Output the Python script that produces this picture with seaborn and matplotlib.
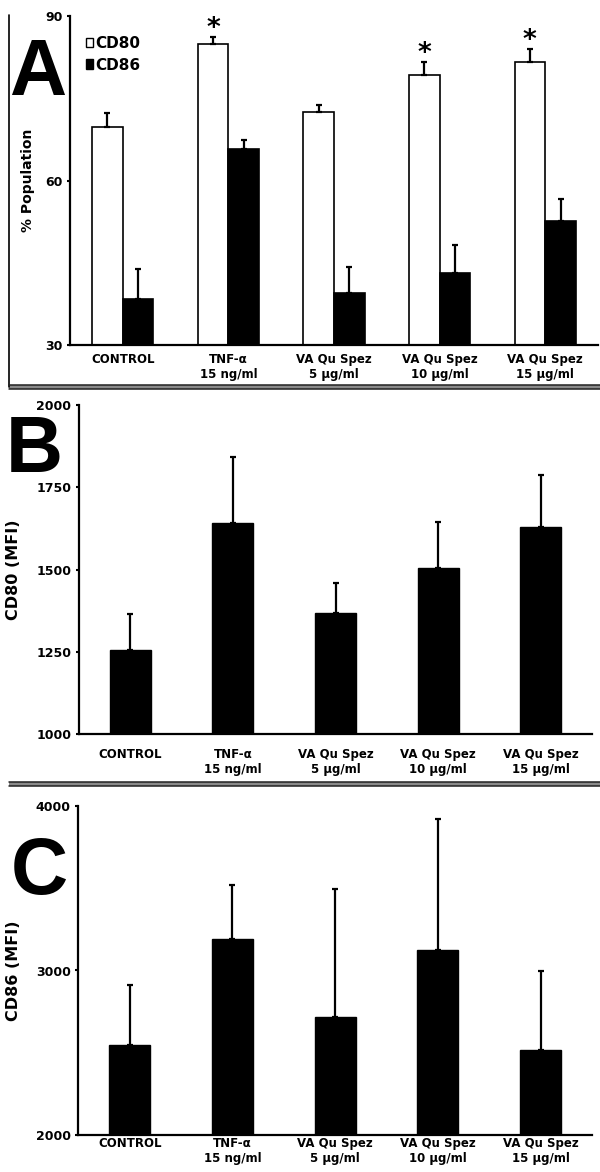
import numpy as np
import pandas as pd
import seaborn as sns
import matplotlib.pyplot as plt
from matplotlib.patches import Patch
from matplotlib.lines import Line2D

# ---- data ----
groups = ["CONTROL", "TNF-\u03b1\n15 ng/ml", "VA Qu Spez\n5 \u00b5g/ml",
          "VA Qu Spez\n10 \u00b5g/ml", "VA Qu Spez\n15 \u00b5g/ml"]

# panel A: % population
cd80_pct = [69.7, 84.9, 72.5, 79.2, 81.7]
cd80_pct_err = [2.6, 1.3, 1.2, 2.5, 2.3]
cd86_pct = [38.3, 65.8, 39.4, 43.1, 52.7]
cd86_pct_err = [5.6, 1.6, 4.9, 5.1, 4.0]
cd80_signif = [False, True, False, True, True]

# panel B: CD80 MFI
cd80_mfi = [1256, 1641, 1368, 1506, 1628]
cd80_mfi_err = [110, 202, 92, 140, 158]

# panel C: CD86 MFI
cd86_mfi = [2548, 3189, 2718, 3126, 2517]
cd86_mfi_err = [365, 333, 779, 797, 477]

sns.set_style("white")
plt.rcParams['font.family'] = ['DejaVu Sans']
plt.rcParams['font.weight'] = 'bold'
for key in ['text.color', 'axes.labelcolor', 'xtick.color', 'ytick.color',
            'xtick.labelcolor', 'ytick.labelcolor']:
    plt.rcParams[key] = 'black'

W, H = 600, 1172
fig = plt.figure(figsize=(W / 100, H / 100), dpi=100)


def px_axes(left, right, top, bottom):
    return fig.add_axes([left / W, 1 - bottom / H, (right - left) / W, (bottom - top) / H])


def style_axis(ax, ticks, xpad):
    sns.despine(ax=ax)
    for s in ['left', 'bottom']:
        ax.spines[s].set_linewidth(1.6)
        ax.spines[s].set_color('black')
    ax.set_yticks(ticks)
    ax.set_ylim(ticks[0], ticks[-1])
    ax.set_xlim(-0.5, 4.5)
    ax.tick_params(axis='y', direction='out', length=2.5, width=1.5, pad=3,
                   labelsize=9, left=True, colors='black')
    ax.tick_params(axis='x', length=0, pad=xpad, labelsize=8.5, colors='black')
    for lab in ax.get_xticklabels() + ax.get_yticklabels():
        lab.set_fontweight('bold')
        lab.set_color('black')
    ax.set_xlabel("")


def add_errors(ax, container, vals, errs):
    xs = [p.get_x() + p.get_width() / 2 for p in container]
    ax.errorbar(xs, vals, yerr=[np.zeros(len(vals)), errs], fmt='none',
                ecolor='black', elinewidth=1.6, capsize=2.2, capthick=1.6, zorder=3)
    return xs


# ---- panel A ----
axA = px_axes(70, 598, 16, 345)
dfA = pd.DataFrame({
    "group": groups * 2,
    "marker": ["CD80"] * 5 + ["CD86"] * 5,
    "value": cd80_pct + cd86_pct,
})
sns.barplot(data=dfA, x="group", y="value", hue="marker", order=groups,
            palette={"CD80": "white", "CD86": "black"}, edgecolor="black",
            linewidth=1.2, width=0.58, saturation=1, errorbar=None,
            legend=False, ax=axA)
xs80 = add_errors(axA, axA.containers[0], cd80_pct, cd80_pct_err)
add_errors(axA, axA.containers[1], cd86_pct, cd86_pct_err)
for x, v, e, s in zip(xs80, cd80_pct, cd80_pct_err, cd80_signif):
    if s:
        axA.text(x, v + e + 0.1, "*", ha='center', va='baseline',
                 fontsize=19, fontweight='heavy', color='black')
style_axis(axA, [30, 60, 90], 5.5)
axA.set_ylabel("% Population", fontsize=10, fontweight='bold', color='black')
axA.yaxis.set_label_coords(-0.066, 0.5)
axA.legend(handles=[Patch(facecolor='white', edgecolor='black', linewidth=1),
                    Patch(facecolor='black', edgecolor='black', linewidth=1)],
           labels=["CD80", "CD86"], loc='upper left',
           bbox_to_anchor=(0.03, 0.94), frameon=False, borderpad=0,
           borderaxespad=0, handlelength=0.45, handleheight=0.6,
           handletextpad=0.15, labelspacing=0.45,
           prop={'weight': 'bold', 'size': 11})

# ---- panel B ----
axB = px_axes(79, 592, 405, 734.3)
dfB = pd.DataFrame({"group": groups, "value": cd80_mfi})
sns.barplot(data=dfB, x="group", y="value", order=groups, color="black",
            edgecolor="black", width=0.4, saturation=1, errorbar=None, ax=axB)
add_errors(axB, axB.containers[0], cd80_mfi, cd80_mfi_err)
style_axis(axB, [1000, 1250, 1500, 1750, 2000], 10)
axB.set_ylabel("CD80 (MFI)", fontsize=11.5, fontweight='bold', color='black')
axB.yaxis.set_label_coords(-0.113, 0.5)

# ---- panel C ----
axC = px_axes(78.3, 592, 806, 1135)
dfC = pd.DataFrame({"group": groups, "value": cd86_mfi})
sns.barplot(data=dfC, x="group", y="value", order=groups, color="black",
            edgecolor="black", width=0.4, saturation=1, errorbar=None, ax=axC)
add_errors(axC, axC.containers[0], cd86_mfi, cd86_mfi_err)
style_axis(axC, [2000, 3000, 4000], 1.5)
axC.set_ylabel("CD86 (MFI)", fontsize=11.5, fontweight='bold', color='black')
axC.yaxis.set_label_coords(-0.112, 0.5)

# ---- panel letters ----
for letter, xc, ybase in [("A", 38, 95), ("B", 34, 472), ("C", 39, 894)]:
    fig.text(xc / W, 1 - ybase / H, letter, ha='center', va='baseline',
             fontsize=57, fontweight='bold', color='black',
             family=['Liberation Sans', 'DejaVu Sans'])

# ---- frame / separators ----
fig.add_artist(Line2D([9 / W, 9 / W], [1 - 15 / H, 1 - 387 / H],
                      transform=fig.transFigure, color='black', lw=1.2))
for y0 in (385, 782):
    fig.add_artist(plt.Rectangle((9 / W, 1 - (y0 + 4) / H), 1 - 9 / W, 4 / H,
                                 transform=fig.transFigure, facecolor='#8a8a8a',
                                 edgecolor='none'))
    for yy in (y0, y0 + 4):
        fig.add_artist(Line2D([9 / W, 1], [1 - yy / H, 1 - yy / H],
                              transform=fig.transFigure, color='#222222', lw=1.1))

fig.savefig("out.png", dpi=100)
